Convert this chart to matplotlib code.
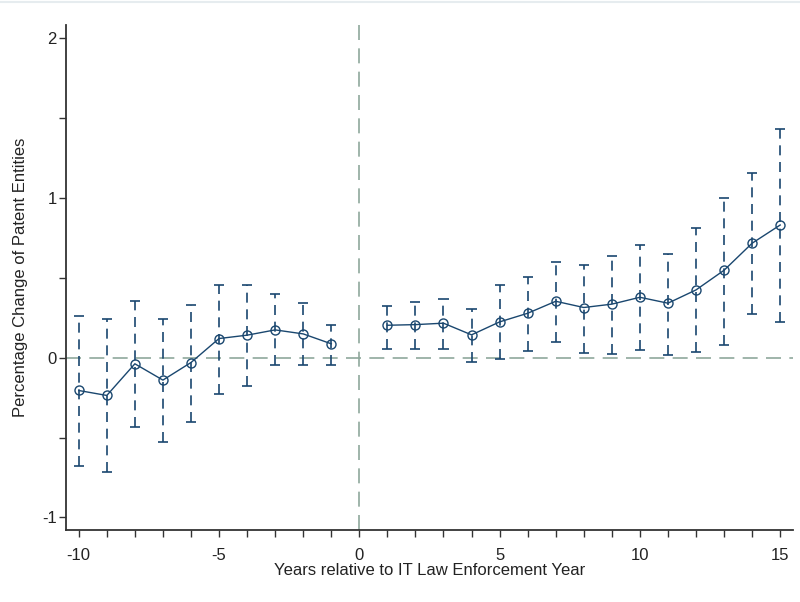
import numpy as np
import matplotlib.pyplot as plt
from matplotlib.lines import Line2D

plt.rcParams['font.family'] = ['Liberation Sans', 'DejaVu Sans']
plt.rcParams['axes.unicode_minus'] = False

# event-time coefficients and 95% CI
pre_years = [-10, -9, -8, -7, -6, -5, -4, -3, -2, -1]
pre_coef = [-0.206, -0.237, -0.039, -0.141, -0.031, 0.119, 0.140, 0.173, 0.148, 0.086]
pre_hi = [0.259, 0.242, 0.354, 0.242, 0.331, 0.454, 0.454, 0.398, 0.342, 0.206]
pre_lo = [-0.679, -0.716, -0.437, -0.531, -0.404, -0.225, -0.175, -0.048, -0.048, -0.048]

post_years = [1, 2, 3, 4, 5, 6, 7, 8, 9, 10, 11, 12, 13, 14, 15]
post_coef = [0.202, 0.206, 0.215, 0.142, 0.223, 0.277, 0.352, 0.313, 0.334, 0.377,
             0.340, 0.423, 0.546, 0.715, 0.829]
post_hi = [0.323, 0.346, 0.365, 0.306, 0.454, 0.506, 0.600, 0.581, 0.638, 0.706,
           0.646, 0.811, 1.000, 1.156, 1.427]
post_lo = [0.056, 0.056, 0.056, -0.029, -0.012, 0.038, 0.096, 0.031, 0.023, 0.048,
           0.017, 0.034, 0.079, 0.271, 0.221]

navy = '#1a476f'
ref_col = '#8fa89c'

fig = plt.figure(figsize=(8, 6.02), dpi=100)
ax = fig.add_axes([0.083, 0.12, 0.908, 0.8385])

ax.axhline(0, color=ref_col, linewidth=1.2, linestyle=(0, (9, 5)), zorder=1)
ax.axvline(0, color=ref_col, linewidth=1.2, linestyle=(0, (9, 5)), zorder=1)

for yrs, coef, lo, hi in [(pre_years, pre_coef, pre_lo, pre_hi),
                          (post_years, post_coef, post_lo, post_hi)]:
    yrs = np.array(yrs)
    coef = np.array(coef)
    ax.vlines(yrs, lo, hi, color=navy, linewidth=1.2, linestyle=(0, (6, 4)), zorder=2)
    ax.hlines(hi, yrs - 0.18, yrs + 0.18, color=navy, linewidth=1.2, zorder=2)
    ax.hlines(lo, yrs - 0.18, yrs + 0.18, color=navy, linewidth=1.2, zorder=2)
    ax.plot(yrs, coef, color=navy, linewidth=1.0, marker='o', markersize=6.5,
            markerfacecolor='none', markeredgecolor=navy, markeredgewidth=1.0, zorder=3)

ax.set_xlim(-10.44, 15.45)
ax.set_ylim(-1.077, 2.08)
ax.set_xticks([-10, -5, 0, 5, 10, 15])
ax.set_xticks(np.arange(-10, 16), minor=True)
ax.set_yticks([-1, 0, 1, 2])
ax.set_yticks([-0.5, 0.5, 1.5], minor=True)

for s in ['top', 'right']:
    ax.spines[s].set_visible(False)
for s in ['left', 'bottom']:
    ax.spines[s].set_color('#333333')
    ax.spines[s].set_linewidth(1.3)

ax.tick_params(axis='x', which='major', pad=8)
ax.tick_params(axis='y', which='major', pad=2)
ax.tick_params(axis='both', which='major', direction='out', length=5, width=1,
               color='#333333', labelsize=12, labelcolor='#222222')
ax.tick_params(axis='both', which='minor', direction='out', length=5, width=1,
               color='#333333')

ax.set_xlabel('Years relative to IT Law Enforcement Year', fontsize=12,
              color='#222222', labelpad=0)
ax.set_ylabel('Percentage Change of Patent Entities', fontsize=12,
              color='#222222', labelpad=10)

fig.add_artist(Line2D([0, 1], [0.996, 0.996], color='#e6ecef', linewidth=1.5))

fig.savefig('out.png', dpi=100)
